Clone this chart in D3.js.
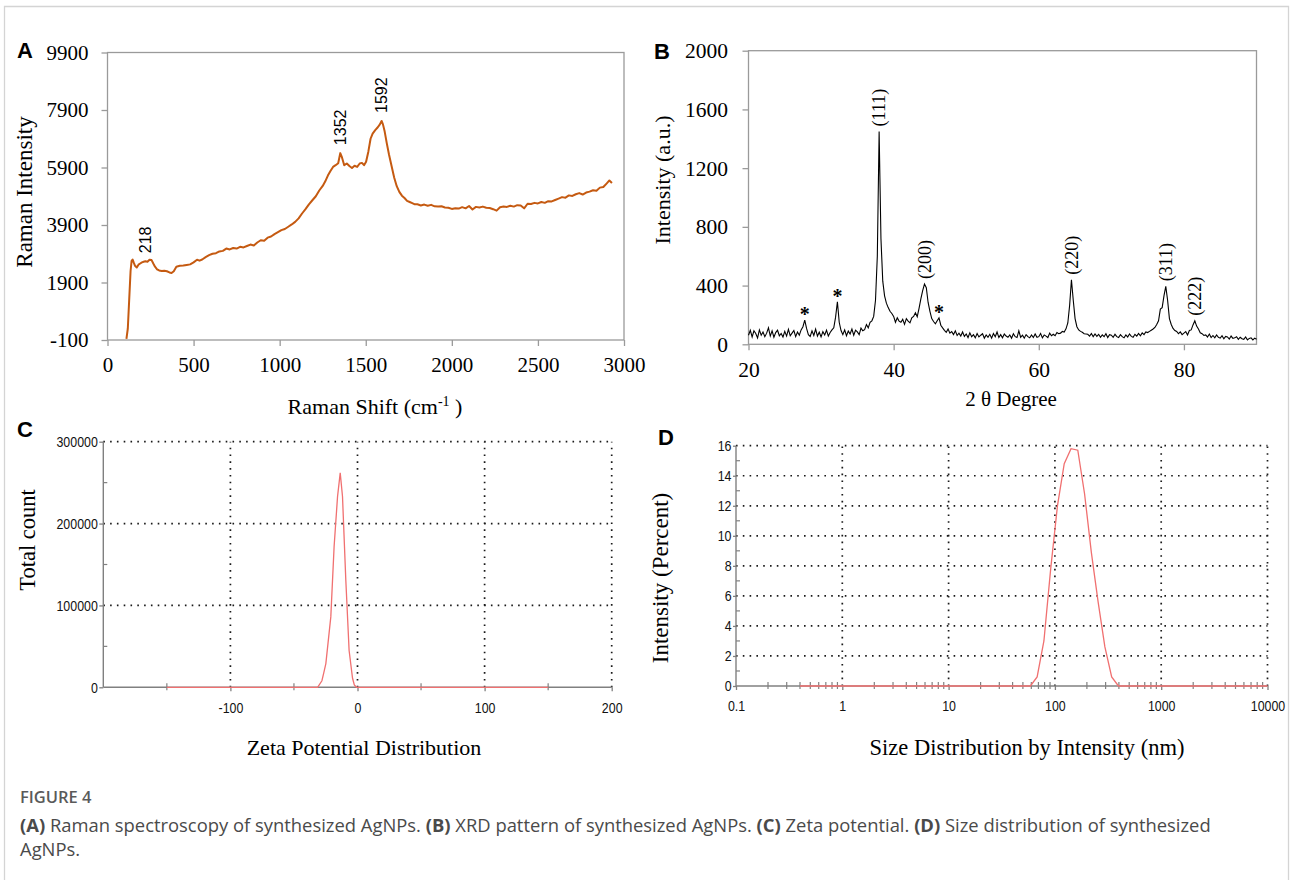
<!DOCTYPE html>
<html>
<head>
<meta charset="utf-8">
<script src="https://cdn.jsdelivr.net/npm/d3@7"></script>
<style>
  body { margin: 0; background: #fff; }
  .serif { font-family: "Liberation Serif", "Times New Roman", serif; fill: #000; }
  .narrow { font-family: "Liberation Sans", Arial, sans-serif; fill: #111; }
  .letter { font-family: "Liberation Sans", Arial, sans-serif; font-weight: bold; font-size: 22px; fill: #000; }
  .frame { fill: none; stroke: #9a9a9a; stroke-width: 1.3; }
  .grid { stroke: #1a1a1a; stroke-width: 1.7; stroke-dasharray: 1.6,5.2; fill: none; }
  .caption { font-family: "Open Sans", "Noto Sans", sans-serif; fill: #4a4a4a; }
</style>
</head>
<body>
<svg width="1290" height="880"></svg>
<script>
// ---- A: Raman spectrum
var ramanShift = [110,118,126,134,140,146,152,160,170,180,190,200,210,220,232,244,256,266,276,288,300,315,330,345,360,372,385,
  400,420,440,460,480,500,520,535,550,570,590,610,630,650,670,690,710,730,750,770,790,810,830,850,870,890,910,930,950,970,990,
  1010,1030,1050,1070,1090,1110,1130,1150,1170,1190,1210,1230,1250,1265,1280,1295,1310,1325,1340,1352,1362,1375,1390,1405,1420,
  1435,1450,1465,1478,1490,1502,1515,1528,1540,1555,1570,1582,1592,1600,1610,1622,1635,1650,1665,1680,1695,1710,1725,1740,1755,
  1770,1785,1800,1820,1840,1860,1880,1900,1920,1940,1960,1980,2000,2020,2040,2060,2080,2100,2120,2140,2160,2180,2200,2220,2240,
  2260,2280,2300,2320,2340,2360,2380,2400,2420,2440,2460,2480,2500,2520,2540,2560,2580,2600,2620,2640,2660,2680,2700,2720,2740,
  2760,2780,2800,2820,2840,2860,2880,2900,2915,2930];
var ramanIntensity = [-60,300,1300,2300,2650,2700,2600,2480,2420,2520,2560,2600,2620,2640,2620,2690,2680,2560,2450,2360,2320,2300,2310,2290,2250,2230,2290,
  2450,2480,2490,2510,2530,2600,2690,2660,2700,2780,2850,2900,2920,2980,3000,3080,3050,3100,3080,3140,3120,3170,3220,3190,3290,3370,3350,3460,3500,3580,3650,
  3720,3760,3840,3920,4010,4130,4300,4450,4620,4760,4900,5100,5260,5420,5620,5780,5920,5980,6050,6400,6250,5980,6040,5950,5880,
  5960,5920,6040,6060,5980,6100,6450,6900,7080,7200,7300,7400,7520,7400,7150,6750,6350,5950,5550,5250,5050,4920,4840,4740,4700,
  4660,4620,4620,4580,4610,4570,4600,4550,4540,4550,4510,4500,4460,4480,4470,4520,4480,4560,4440,4530,4510,4540,4500,4490,4450,
  4400,4520,4540,4530,4570,4540,4590,4580,4480,4640,4630,4670,4650,4700,4670,4730,4720,4770,4820,4870,4850,4930,4910,4970,5010,
  4960,5030,5060,5110,5090,5200,5220,5350,5450,5360];
var ramanTicksX = [0,500,1000,1500,2000,2500,3000];
var ramanTicksY = [-100,1900,3900,5900,7900,9900];
var ramanPeakShift = [218,1352,1592];
var ramanPeakHeight = [2640,6400,7520];

// ---- B: XRD pattern, 2theta from 20 to 90 in 0.25 degree steps
var xrdStart = 20, xrdStep = 0.25;
var xrdIntensity = [
  62,95,50,92, 74,44,98,62, 84,52,76,112, 56,92,48,80, 96,58,74,50, 88,56,102,58, 76,94,52,84, 62,98,120,165,
  108,66,54,92, 60,104,56,82, 50,86,64,96, 56,80,98,112, 185,290,150,94, 66,98,58,90, 70,104,62,96, 84,66,110,92,
  100,135,112,150, 160,190,300,600, 1450,720,430,330, 280,250,225,210, 190,150,180,158, 150,170,136,175, 158,146,180,190,
  215,188,245,310, 365,410,385,285, 225,175,155,140, 160,180,130,112, 95,82,104,76, 86,66,92,60, 76,56,84,54,
  70,46,78,52, 66,44,74,50, 62,72,42,64, 48,68,42,74, 52,84,46,66, 44,70,56,48, 64,42,72,52, 46,92,48,62,
  42,66,52,44, 64,46,70,48, 52,74,44,64, 56,46,76,58, 68,58,80,72, 76,88,84,105, 145,265,440,300, 175,120,98,88,
  82,72,70,68, 56,74,52,70, 54,68,48,64, 52,72,46,66, 62,48,68,52, 46,66,52,44, 64,50,70,54, 48,68,56,74,
  58,78,66,84, 80,88,96,104, 115,135,160,240, 250,330,395,300, 175,135,108,94, 88,72,84,66, 76,86,64,94,
  98,132,160,124, 104,78,72,60, 64,50,70,46, 60,44,64,48, 42,58,38,54, 50,36,56,40, 44,52,34,48, 38,34,50,30,
  40,44,30,42, 34];
var xrdTicksX = [20,40,60,80];
var xrdTicksY = [0,400,800,1200,1600,2000];
var xrdPeakLabels = ["(111)","(200)","(220)","(311)","(222)"];
var xrdPeakAngles = [38.0,44.25,64.5,77.5,81.5];
var xrdStarAngles = [27.75,32.25,46.25];

// ---- C: zeta potential
var zetaPotential = [-150,-31.4,-28,-26.5,-24.9,-21,-18.4,-15.7,-13.6,-11.8,-9.2,-6.6,-3.9,-2.5,-0.8,150];
var zetaCount = [0,0,8000,18000,29000,86000,172000,233000,262000,233000,131000,45000,11000,3000,0,0];
var zetaTicksX = [-100,0,100,200];
var zetaMinorX = [-150,-50,50,150];
var zetaTicksY = [0,100000,200000,300000];
var zetaMinorY = [50000,150000,250000];

// ---- D: size distribution by intensity
var sizeNm = [0.4,58.77,68.06,78.82,91.28,105.7,122.4,141.8,164.2,190.1,220.2,255.0,295.3,342.0,396.1,10000];
var sizeIntensity = [0,0,0.6,3.0,7.8,12.0,14.8,15.8,15.7,12.8,8.9,5.6,2.6,0.6,0,0];
var sizeTicksX = [0.1,1,10,100,1000,10000];
var sizeTicksY = [0,2,4,6,8,10,12,14,16];
var sizeMinorY = [1,3,5,7,9,11,13,15];

var plain = function(d) { return String(d); };
var svg = d3.select("svg");
svg.append("rect").attr("width", 1290).attr("height", 880).attr("fill", "#fff");
svg.append("path").attr("d", "M4.5,880V6.5H1288.5V880")
   .attr("fill", "none").attr("stroke", "#d4d4d4").attr("stroke-width", 1.3);

function styleAxis(g, cls, size, color) {
    g.select(".domain").remove();
    g.selectAll(".tick line").attr("stroke", color).attr("stroke-width", 1.3);
    g.selectAll(".tick text").attr("class", cls).attr("font-size", size).attr("fill", null);
    g.attr("font-family", null).attr("font-size", null);
    if (cls === "narrow") {
        // condensed look of the instrument software labels
        g.selectAll(".tick text").each(function() {
            var t = d3.select(this), x = +t.attr("x") || 0;
            t.attr("x", x / 0.8).attr("transform", "scale(0.8,1)");
        });
    }
}

function vlabel(g, text, x, y, size, cls) {
    return g.append("text").attr("class", cls)
        .attr("transform", "translate(" + x + "," + y + ") rotate(-90)")
        .attr("text-anchor", "middle").attr("dy", "0.35em")
        .attr("font-size", size).text(text);
}

// ================= A =================
var xA = d3.scaleLinear().domain([0, 3000]).range([107.5, 624]);
var yA = d3.scaleLinear().domain([-100, 9900]).range([340, 52.5]);
var gA = svg.append("g");

gA.append("rect").attr("class", "frame")
  .attr("x", xA(0)).attr("y", yA(9900))
  .attr("width", xA(3000) - xA(0)).attr("height", yA(-100) - yA(9900));

gA.append("g").attr("transform", "translate(" + xA(0) + ",0)")
  .call(d3.axisLeft(yA).tickValues(ramanTicksY).tickSize(6).tickPadding(13).tickFormat(plain))
  .call(styleAxis, "serif", "21px", "#9a9a9a");
gA.append("g").attr("transform", "translate(0," + yA(-100) + ")")
  .call(d3.axisBottom(xA).tickValues(ramanTicksX).tickSize(6).tickPadding(11.5).tickFormat(plain))
  .call(styleAxis, "serif", "21px", "#9a9a9a");

gA.append("path")
  .datum(d3.zip(ramanShift, ramanIntensity))
  .attr("fill", "none").attr("stroke", "#c55a11").attr("stroke-width", 2)
  .attr("stroke-linejoin", "round")
  .attr("d", d3.line().x(function(d) { return xA(d[0]); }).y(function(d) { return yA(d[1]); }));

ramanPeakShift.forEach(function(p, i) {
    gA.append("text").attr("font-family", "Liberation Sans, Arial, sans-serif").attr("font-size", "16px")
      .attr("transform", "translate(" + xA(p) + "," + (yA(ramanPeakHeight[i]) - 8) + ") rotate(-90)")
      .attr("dy", "0.35em").text(p);
});

gA.append("text").attr("class", "letter").attr("x", 17).attr("y", 58).text("A");
vlabel(gA, "Raman Intensity", 24, 192, "23px", "serif");
var tA = gA.append("text").attr("class", "serif").attr("font-size", "22px")
  .attr("x", 375).attr("y", 414).attr("text-anchor", "middle");
tA.append("tspan").text("Raman Shift (cm");
tA.append("tspan").attr("font-size", "14px").attr("dy", -8).text("-1");
tA.append("tspan").attr("dy", 8).text(" )");

// ================= B =================
var xB = d3.scaleLinear().domain([20, 90]).range([748.5, 1256.5]);
var yB = d3.scaleLinear().domain([0, 2000]).range([344.3, 50.7]);
var gB = svg.append("g");
var xrdData = xrdIntensity.map(function(v, i) { return [xrdStart + i * xrdStep, v]; });
function xrdAt(a) { return xrdIntensity[Math.round((a - xrdStart) / xrdStep)]; }

gB.append("rect").attr("class", "frame")
  .attr("x", xB(20)).attr("y", yB(2000))
  .attr("width", xB(90) - xB(20)).attr("height", yB(0) - yB(2000));
gB.append("g").attr("transform", "translate(" + xB(20) + ",0)")
  .call(d3.axisLeft(yB).tickValues(xrdTicksY).tickSize(6).tickPadding(14.5).tickFormat(plain))
  .call(styleAxis, "serif", "21.5px", "#9a9a9a");
gB.append("g").attr("transform", "translate(0," + yB(0) + ")")
  .call(d3.axisBottom(xB).tickValues(xrdTicksX).tickSize(6).tickPadding(11.5).tickFormat(plain))
  .call(styleAxis, "serif", "21.5px", "#9a9a9a");

gB.append("path").datum(xrdData)
  .attr("fill", "none").attr("stroke", "#000").attr("stroke-width", 1.1)
  .attr("d", d3.line().x(function(d) { return xB(d[0]); }).y(function(d) { return yB(d[1]); }));

xrdPeakLabels.forEach(function(lab, i) {
    var a = xrdPeakAngles[i];
    gB.append("text").attr("class", "serif").attr("font-size", "18px")
      .attr("transform", "translate(" + xB(a) + "," + (yB(xrdAt(a)) - 5) + ") rotate(-90)")
      .attr("dy", "0.35em").text(lab);
});
xrdStarAngles.forEach(function(a) {
    gB.append("text").attr("class", "serif").attr("font-size", "20px").attr("font-weight", "bold")
      .attr("text-anchor", "middle").attr("x", xB(a)).attr("y", yB(xrdAt(a)) + 1).text("*");
});

gB.append("text").attr("class", "letter").attr("x", 654).attr("y", 59).text("B");
vlabel(gB, "Intensity (a.u.)", 662, 180, "22px", "serif");
gB.append("text").attr("class", "serif").attr("font-size", "21px")
  .attr("x", 1011).attr("y", 406).attr("text-anchor", "middle").text("2 \u03B8 Degree");

// ================= C =================
var xC = d3.scaleLinear().domain([-200, 200]).range([103.3, 611.7]);
var yC = d3.scaleLinear().domain([0, 300000]).range([687.3, 441.7]);
var gC = svg.append("g");

gC.selectAll(".gh").data(zetaTicksY.slice(1)).enter().append("line").attr("class", "grid")
  .attr("x1", xC(-200)).attr("x2", xC(200)).attr("y1", yC).attr("y2", yC);
gC.selectAll(".gv").data(zetaTicksX).enter().append("line").attr("class", "grid")
  .attr("x1", xC).attr("x2", xC).attr("y1", yC(0)).attr("y2", yC(300000));

gC.append("line").attr("x1", xC(-200)).attr("x2", xC(-200)).attr("y1", yC(0)).attr("y2", yC(300000))
  .attr("stroke", "#808080").attr("stroke-width", 1.4);
gC.append("line").attr("x1", xC(-200)).attr("x2", xC(200)).attr("y1", yC(0)).attr("y2", yC(0))
  .attr("stroke", "#808080").attr("stroke-width", 1.4);

gC.append("g").attr("transform", "translate(" + xC(-200) + ",0)")
  .call(d3.axisLeft(yC).tickValues(zetaTicksY).tickSize(4).tickPadding(1.5).tickFormat(plain))
  .call(styleAxis, "narrow", "15.5px", "#808080");
gC.append("g").attr("transform", "translate(0," + yC(0) + ")")
  .call(d3.axisBottom(xC).tickValues(zetaTicksX).tickSize(4).tickPadding(10.5).tickFormat(plain))
  .call(styleAxis, "narrow", "15.5px", "#808080");
gC.selectAll(".mx").data(zetaMinorX).enter().append("line")
  .attr("x1", xC).attr("x2", xC).attr("y1", yC(0) - 4).attr("y2", yC(0) + 3)
  .attr("stroke", "#808080").attr("stroke-width", 1.2);
gC.selectAll(".my").data(zetaMinorY).enter().append("line")
  .attr("x1", xC(-200)).attr("x2", xC(-200) + 4).attr("y1", yC).attr("y2", yC)
  .attr("stroke", "#808080").attr("stroke-width", 1.2);

gC.append("path").datum(d3.zip(zetaPotential, zetaCount))
  .attr("fill", "none").attr("stroke", "#f07070").attr("stroke-width", 1.3)
  .attr("d", d3.line().x(function(d) { return xC(d[0]); }).y(function(d) { return yC(d[1]); }));

gC.append("text").attr("class", "letter").attr("x", 17).attr("y", 437).text("C");
vlabel(gC, "Total count", 27, 540, "22.5px", "serif");
gC.append("text").attr("class", "serif").attr("font-size", "22px")
  .attr("x", 364).attr("y", 755).attr("text-anchor", "middle").text("Zeta Potential Distribution");

// ================= D =================
var xD = d3.scaleLog().domain([0.1, 10000]).range([736, 1267.5]);
var yD = d3.scaleLinear().domain([0, 16]).range([686, 445.7]);
var gD = svg.append("g");

gD.selectAll(".gh").data(sizeTicksY.slice(1)).enter().append("line").attr("class", "grid")
  .attr("x1", xD(0.1)).attr("x2", xD(10000)).attr("y1", yD).attr("y2", yD);
gD.selectAll(".gv").data(sizeTicksX.slice(1)).enter().append("line").attr("class", "grid")
  .attr("x1", xD).attr("x2", xD).attr("y1", yD(0)).attr("y2", yD(16));

gD.append("line").attr("x1", xD(0.1)).attr("x2", xD(0.1)).attr("y1", yD(0)).attr("y2", yD(16))
  .attr("stroke", "#808080").attr("stroke-width", 1.4);
gD.append("line").attr("x1", xD(0.1)).attr("x2", xD(10000)).attr("y1", yD(0)).attr("y2", yD(0))
  .attr("stroke", "#808080").attr("stroke-width", 1.4);

gD.append("g").attr("transform", "translate(" + xD(0.1) + ",0)")
  .call(d3.axisLeft(yD).tickValues(sizeTicksY).tickSize(3).tickPadding(1.5).tickFormat(plain))
  .call(styleAxis, "narrow", "15.5px", "#808080");
gD.append("g").attr("transform", "translate(0," + yD(0) + ")")
  .call(d3.axisBottom(xD).tickValues(sizeTicksX).tickSize(4).tickPadding(9.5).tickFormat(plain))
  .call(styleAxis, "narrow", "15.5px", "#808080");
var sizeMinorX = xD.ticks().filter(function(v) { return sizeTicksX.indexOf(v) < 0; });
gD.selectAll(".mx").data(sizeMinorX).enter().append("line")
  .attr("x1", xD).attr("x2", xD).attr("y1", yD(0) - 4).attr("y2", yD(0) + 3)
  .attr("stroke", "#808080").attr("stroke-width", 1.2);
gD.selectAll(".my").data(sizeMinorY).enter().append("line")
  .attr("x1", xD(0.1)).attr("x2", xD(0.1) + 4).attr("y1", yD).attr("y2", yD)
  .attr("stroke", "#808080").attr("stroke-width", 1.2);

gD.append("path").datum(d3.zip(sizeNm, sizeIntensity))
  .attr("fill", "none").attr("stroke", "#f07070").attr("stroke-width", 1.3)
  .attr("d", d3.line().x(function(d) { return xD(d[0]); }).y(function(d) { return yD(d[1]); }));

gD.append("text").attr("class", "letter").attr("x", 658).attr("y", 445).text("D");
vlabel(gD, "Intensity (Percent)", 660, 578, "23px", "serif");
gD.append("text").attr("class", "serif").attr("font-size", "22.5px")
  .attr("x", 1027).attr("y", 755).attr("text-anchor", "middle").text("Size Distribution by Intensity (nm)");

// ================= caption =================
var cap = svg.append("g").attr("class", "caption");
cap.append("text").attr("x", 20).attr("y", 803).attr("font-size", "16.5px").attr("font-weight", 600)
  .attr("fill", "#5a5a5a").text("FIGURE 4");
var line1 = cap.append("text").attr("x", 20).attr("y", 832).attr("font-size", "18.4px");
[["(A)", true], [" Raman spectroscopy of synthesized AgNPs. ", false], ["(B)", true],
 [" XRD pattern of synthesized AgNPs. ", false], ["(C)", true], [" Zeta potential. ", false],
 ["(D)", true], [" Size distribution of synthesized", false]].forEach(function(p) {
    line1.append("tspan").attr("font-weight", p[1] ? 700 : 400).text(p[0]);
});
cap.append("text").attr("x", 20).attr("y", 856).attr("font-size", "18.4px").text("AgNPs.");
</script>
</body>
</html>
